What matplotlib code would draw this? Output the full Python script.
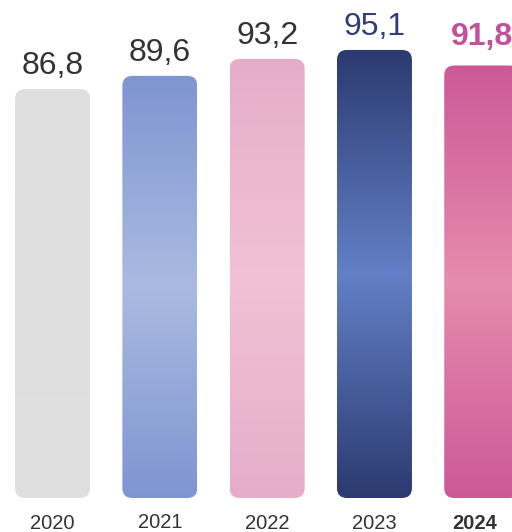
import numpy as np
import matplotlib.pyplot as plt
from matplotlib.patches import FancyBboxPatch
from matplotlib.colors import LinearSegmentedColormap

# --- data ---
years = ["2020", "2021", "2022", "2023", "2024"]
values = [86.8, 89.6, 93.2, 95.1, 91.8]
value_labels = ["86,8", "89,6", "93,2", "95,1", "91,8"]

# --- style ---
edge_colors = ["#e0e0e0", "#7f95d1", "#e6adca", "#2b3a70", "#cc5898"]
mid_colors = ["#dedede", "#aabae1", "#f1c1d4", "#6380c6", "#e68cad"]
label_colors = ["#333333", "#333333", "#333333", "#2e3f78", "#c2509a"]
highlight = "2024"

plt.rcParams['font.family'] = ['Liberation Sans', 'DejaVu Sans']

fig = plt.figure(figsize=(5.12, 5.32), dpi=100)
ax = fig.add_axes([0, 34 / 532, 1, 498 / 532])
ax.axis('off')

XLIM = (-0.490, 4.282)
YLIM = (0, 105.7)

x = np.arange(len(years))
bars = ax.bar(x, values, width=0.699, color='none', edgecolor='none')
ax.set_xlim(*XLIM)
ax.set_ylim(*YLIM)

# pixel aspect so the rounded corners come out circular
fig.canvas.draw()
(px0, py0), (px1, py1) = ax.transData.transform([(0, 0), (1, 1)])
aspect = (px1 - px0) / (py1 - py0)
radius = 10 / (px1 - px0)

grad = np.linspace(0, 1, 256).reshape(-1, 1)
for bar, c_edge, c_mid in zip(bars, edge_colors, mid_colors):
    bx, by = bar.get_x(), bar.get_y()
    w, h = bar.get_width(), bar.get_height()
    patch = FancyBboxPatch((bx, by), w, h,
                           boxstyle=f"round,pad=0,rounding_size={radius}",
                           mutation_aspect=aspect,
                           facecolor='none', edgecolor='none')
    ax.add_patch(patch)
    cmap = LinearSegmentedColormap.from_list('g', [c_edge, c_mid, c_edge])
    im = ax.imshow(grad, cmap=cmap, extent=[bx, bx + w, by, by + h],
                   aspect='auto', origin='lower', interpolation='bicubic')
    im.set_clip_path(patch)

ax.set_xlim(*XLIM)
ax.set_ylim(*YLIM)

# value labels above bars
for xi, v, lab, col, yr in zip(x, values, value_labels, label_colors, years):
    bold = yr == highlight
    ax.annotate(lab, (xi, v), xytext=(0, 14.4 if bold else 10.8),
                textcoords='offset points', ha='center', va='baseline',
                fontsize=23, color=col,
                fontweight='bold' if bold else 'normal',
                annotation_clip=False)

# year labels (slightly staggered as in the original)
dy = [-22.0, -21.3, -22.0, -22.3, -22.3]
dx = [0, 0, 0, 0, -5]
for xi, yr, oy, ox in zip(x, years, dy, dx):
    bold = yr == highlight
    ax.annotate(yr, (xi, 0), xytext=(ox, oy), textcoords='offset points',
                ha='center', va='baseline', fontsize=14.5, color='#333333',
                fontweight='bold' if bold else 'normal',
                annotation_clip=False)

fig.savefig("out.png", dpi=100)
